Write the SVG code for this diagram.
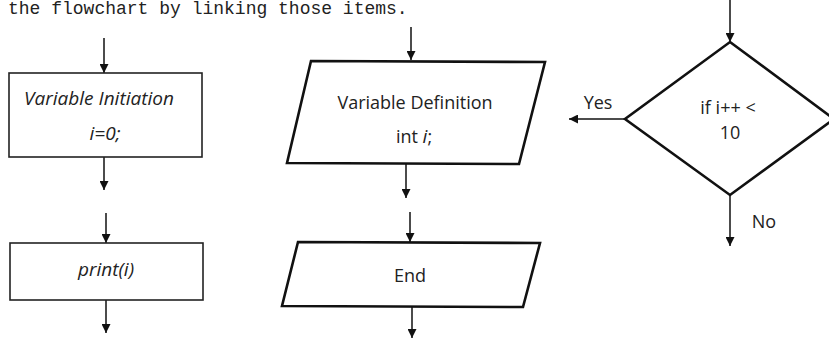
<svg xmlns="http://www.w3.org/2000/svg" width="829" height="340" viewBox="0 0 829 340">
<defs>
<marker id="ah" viewBox="0 0 10 10" refX="10" refY="5" markerWidth="9" markerHeight="9" markerUnits="userSpaceOnUse" orient="auto">
<path d="M0,0 L10,5 L0,10 Z" fill="#111"/>
</marker>
</defs>
<style>
.hdr{font-family:"Liberation Mono",monospace;font-size:18px;fill:#222}
.t{font-family:"Open Sans","Liberation Sans",sans-serif;font-size:18px;fill:#222;text-anchor:middle}
.it{font-style:italic;font-size:19px}
.box{fill:#fff;stroke:#222;stroke-width:1.6}
.thick{fill:#fff;stroke:#111;stroke-width:2.6;stroke-linejoin:miter}
.c{stroke:#111;stroke-width:1.5;fill:none;marker-end:url(#ah)}
</style>
<rect width="829" height="340" fill="#fff"/>
<text class="hdr" x="8" y="14">the flowchart by linking those items.</text>
<g id="connectors">
<line class="c" x1="104" y1="38" x2="104" y2="73"/>
<line class="c" x1="104" y1="157" x2="104" y2="190"/>
<line class="c" x1="106" y1="213" x2="106" y2="243"/>
<line class="c" x1="106" y1="300" x2="106" y2="333"/>
<line class="c" x1="411" y1="27" x2="411" y2="60"/>
<line class="c" x1="406" y1="164" x2="406" y2="198"/>
<line class="c" x1="410" y1="212" x2="410" y2="242"/>
<line class="c" x1="412" y1="307" x2="412" y2="338"/>
<line class="c" x1="730" y1="0" x2="730" y2="42"/>
<line class="c" x1="625" y1="119" x2="569" y2="119"/>
<line class="c" x1="730" y1="195" x2="730" y2="246"/>
</g>
<g id="init">
<rect class="box" x="9" y="73" width="193" height="84"/>
<text class="t it" x="99" y="105">Variable Initiation</text>
<text class="t it" x="105" y="140">i=0;</text>
</g>
<g id="print">
<rect class="box" x="10" y="243" width="193" height="57"/>
<text class="t it" x="106" y="276">print(i)</text>
</g>
<g id="vardef">
<polygon class="thick" points="311,61 545,62 519,164 287,163"/>
<text class="t" x="415" y="109">Variable Definition</text>
<text class="t" x="414" y="143">int <tspan class="it">i</tspan>;</text>
</g>
<g id="end">
<polygon class="thick" points="298,242 540,243 523,307 282,306"/>
<text class="t" x="410" y="282">End</text>
</g>
<g id="decision">
<polygon class="thick" points="730,42 834,119 730,195 625,119"/>
<text class="t" x="728" y="114">if i++ &lt;</text>
<text class="t" x="730" y="139">10</text>
<text class="t" x="598" y="109">Yes</text>
<text class="t" x="764" y="228">No</text>
</g>
</svg>
